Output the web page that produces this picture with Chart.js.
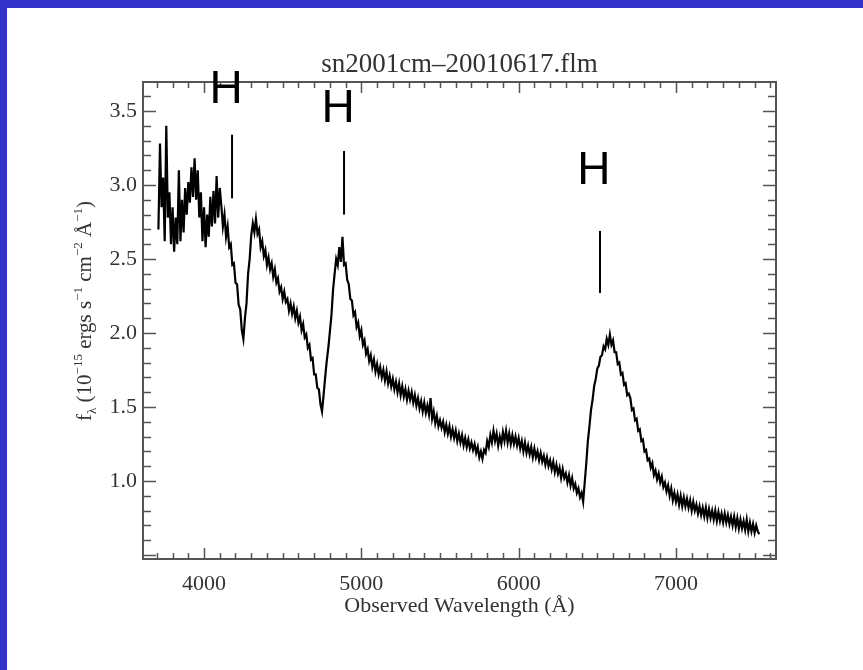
<!DOCTYPE html>
<html>
<head>
<meta charset="utf-8">
<script src="https://cdn.jsdelivr.net/npm/chart.js@4.4.0/dist/chart.umd.js"></script>
<style>
  body { margin: 0; background: #fff; }
  .frame {
    position: absolute; left: 0; top: 0; width: 863px; height: 670px;
    box-sizing: border-box;
    border-top: 8px solid #3333cc;
    border-left: 7px solid #3333cc;
  }
  #chart { position: absolute; left: 0; top: 0; }
</style>
</head>
<body>
<div class="frame"></div>
<canvas id="chart" width="863" height="670"></canvas>
<script>
// spectrum sampling (Angstrom)
const wave0 = 3710;
const waveStep = 10;

// flux in 1e-15 erg/s/cm2/A, one row = 200 A
const flux = [
  2.70, 3.28, 2.85, 3.05, 2.62, 3.40, 2.78, 2.95, 2.60, 2.85, 2.55, 2.78, 2.60, 3.10, 2.62, 2.90, 2.68, 2.98, 2.80, 3.02, // 3710
  2.88, 3.12, 2.92, 3.18, 2.90, 3.10, 2.78, 2.95, 2.62, 2.85, 2.58, 2.80, 2.65, 2.92, 2.72, 2.96, 2.74, 3.06, 2.78, 2.98, // 3910
  2.86, 2.72, 2.80, 2.65, 2.72, 2.58, 2.60, 2.46, 2.47, 2.34, 2.33, 2.19, 2.16, 2.02, 1.96, 2.10, 2.20, 2.40, 2.50, 2.66, // 4110
  2.74, 2.68, 2.77, 2.67, 2.70, 2.58, 2.62, 2.52, 2.56, 2.46, 2.51, 2.43, 2.47, 2.38, 2.43, 2.34, 2.37, 2.28, 2.31, 2.23, // 4310
  2.28, 2.21, 2.23, 2.15, 2.20, 2.13, 2.18, 2.10, 2.15, 2.07, 2.11, 2.02, 2.06, 1.97, 1.99, 1.90, 1.92, 1.82, 1.83, 1.72, // 4510
  1.72, 1.63, 1.62, 1.52, 1.47, 1.58, 1.70, 1.81, 1.90, 2.01, 2.12, 2.29, 2.40, 2.50, 2.46, 2.58, 2.48, 2.65, 2.46, 2.47, // 4710
  2.36, 2.33, 2.23, 2.22, 2.12, 2.14, 2.04, 2.07, 1.98, 2.02, 1.92, 1.95, 1.86, 1.89, 1.81, 1.85, 1.77, 1.82, 1.74, 1.79, // 4910
  1.72, 1.77, 1.70, 1.75, 1.68, 1.74, 1.66, 1.71, 1.64, 1.69, 1.62, 1.67, 1.60, 1.66, 1.58, 1.64, 1.57, 1.62, 1.55, 1.61, // 5110
  1.55, 1.60, 1.53, 1.58, 1.51, 1.56, 1.49, 1.54, 1.47, 1.53, 1.46, 1.51, 1.45, 1.56, 1.42, 1.47, 1.39, 1.44, 1.37, 1.41, // 5310
  1.36, 1.40, 1.33, 1.38, 1.32, 1.37, 1.30, 1.35, 1.29, 1.34, 1.27, 1.32, 1.26, 1.31, 1.24, 1.29, 1.23, 1.28, 1.22, 1.26, // 5510
  1.21, 1.25, 1.19, 1.23, 1.16, 1.20, 1.15, 1.21, 1.19, 1.27, 1.23, 1.31, 1.26, 1.34, 1.27, 1.32, 1.24, 1.30, 1.25, 1.33, // 5710
  1.27, 1.34, 1.26, 1.32, 1.25, 1.31, 1.25, 1.30, 1.24, 1.29, 1.22, 1.27, 1.20, 1.26, 1.19, 1.24, 1.18, 1.23, 1.16, 1.22, // 5910
  1.16, 1.20, 1.14, 1.19, 1.13, 1.17, 1.11, 1.16, 1.10, 1.14, 1.08, 1.13, 1.06, 1.11, 1.05, 1.09, 1.02, 1.08, 1.02, 1.05, // 6110
  0.99, 1.04, 0.97, 1.02, 0.95, 0.98, 0.92, 0.95, 0.89, 0.92, 0.86, 0.99, 1.12, 1.27, 1.37, 1.48, 1.55, 1.64, 1.69, 1.76, // 6310
  1.78, 1.84, 1.85, 1.91, 1.89, 1.96, 1.92, 1.99, 1.92, 1.95, 1.87, 1.87, 1.79, 1.80, 1.72, 1.73, 1.65, 1.66, 1.58, 1.59, // 6510
  1.56, 1.48, 1.49, 1.41, 1.42, 1.34, 1.35, 1.27, 1.28, 1.20, 1.21, 1.14, 1.15, 1.09, 1.12, 1.04, 1.07, 1.01, 1.05, 0.99, // 6710
  1.03, 0.96, 0.99, 0.93, 0.97, 0.90, 0.95, 0.87, 0.92, 0.86, 0.91, 0.84, 0.90, 0.83, 0.89, 0.83, 0.88, 0.82, 0.87, 0.80, // 6910
  0.86, 0.80, 0.84, 0.78, 0.83, 0.77, 0.82, 0.76, 0.82, 0.75, 0.81, 0.75, 0.80, 0.74, 0.80, 0.73, 0.79, 0.73, 0.78, 0.72, // 7110
  0.78, 0.72, 0.77, 0.71, 0.76, 0.70, 0.76, 0.69, 0.75, 0.68, 0.74, 0.68, 0.73, 0.67, 0.74, 0.66, 0.72, 0.66, 0.71, 0.65, // 7310
  0.70, 0.66, 0.64                                                                                                        // 7510
];

const xTicks = [4000, 5000, 6000, 7000];
const yTicks = [1.0, 1.5, 2.0, 2.5, 3.0, 3.5];

// line identifications: wavelength, top and bottom of the bar, label height
const markWave = [4178, 4890, 6517];
const markTop = [3.34, 3.23, 2.69];
const markBottom = [2.91, 2.80, 2.27];
const markLabelY = [3.64, 3.51, 3.09];
const markText = ['H', 'H', 'H'];

const plotTitle = 'sn2001cm\u201320010617.flm';
const xTitle = 'Observed Wavelength (\u00c5)';

const serif = '"Liberation Serif", "DejaVu Serif", serif';

// IDL style box: frame, inward ticks, titles, line marks
const idlBox = {
  id: 'idlBox',
  afterDraw(chart) {
    const {ctx, chartArea: a, scales: {x, y}} = chart;
    ctx.save();

    // inward ticks
    ctx.strokeStyle = '#555';
    ctx.lineWidth = 1.5;
    ctx.beginPath();
    for (let v = 3700; v <= 7600; v += 100) {
      const px = Math.round(x.getPixelForValue(v)) + 0.5;
      const len = v % 1000 === 0 ? 11 : 6;
      ctx.moveTo(px, a.bottom); ctx.lineTo(px, a.bottom - len);
      ctx.moveTo(px, a.top); ctx.lineTo(px, a.top + len);
    }
    for (let k = 5; k <= 36; k++) {
      const py = Math.round(y.getPixelForValue(k / 10)) + 0.5;
      const len = k % 5 === 0 ? 13 : 8;
      ctx.moveTo(a.left, py); ctx.lineTo(a.left + len, py);
      ctx.moveTo(a.right, py); ctx.lineTo(a.right - len, py);
    }
    ctx.stroke();
    ctx.lineWidth = 2;
    ctx.strokeRect(a.left, a.top, a.right - a.left, a.bottom - a.top);

    // titles
    ctx.fillStyle = '#333';
    ctx.textAlign = 'center';
    ctx.textBaseline = 'alphabetic';
    ctx.font = '27px ' + serif;
    ctx.fillText(plotTitle, (a.left + a.right) / 2, 72);
    ctx.font = '22px ' + serif;
    ctx.fillText(xTitle, (a.left + a.right) / 2, 612);

    // y title with sub/superscripts
    const main = '21px ' + serif, small = '13px ' + serif;
    const parts = [
      ['f', 0, main], ['\u03bb', 5, small], [' (10', 0, main], ['\u221215', -9, small],
      [' ergs s', 0, main], ['\u22121', -9, small], [' cm', 0, main], ['\u22122', -9, small],
      [' \u00c5', 0, main], ['\u22121', -9, small], [')', 0, main]
    ];
    let total = 0;
    parts.forEach(p => { ctx.font = p[2]; total += ctx.measureText(p[0]).width; });
    ctx.translate(91, 311);
    ctx.rotate(-Math.PI / 2);
    ctx.textAlign = 'left';
    let cx = -total / 2;
    parts.forEach(p => {
      ctx.font = p[2];
      ctx.fillText(p[0], cx, p[1]);
      cx += ctx.measureText(p[0]).width;
    });
    ctx.setTransform(1, 0, 0, 1, 0, 0);

    // line marks
    ctx.strokeStyle = '#000';
    ctx.fillStyle = '#000';
    ctx.lineWidth = 2;
    ctx.textAlign = 'center';
    ctx.textBaseline = 'middle';
    ctx.font = '46px "Liberation Sans", Arial, sans-serif';
    markWave.forEach((w, i) => {
      const px = x.getPixelForValue(w);
      ctx.beginPath();
      ctx.moveTo(px, y.getPixelForValue(markTop[i]));
      ctx.lineTo(px, y.getPixelForValue(markBottom[i]));
      ctx.stroke();
      ctx.fillText(markText[i], px - 6, y.getPixelForValue(markLabelY[i]));
    });
    ctx.restore();
  }
};

new Chart(document.getElementById('chart'), {
  type: 'scatter',
  data: {
    datasets: [{
      data: flux.map((f, i) => ({x: wave0 + i * waveStep, y: f})),
      showLine: true,
      borderColor: '#000',
      borderWidth: 2.2,
      pointRadius: 0,
      tension: 0
    }]
  },
  options: {
    responsive: false,
    animation: false,
    layout: {padding: {top: 82, right: 87, left: 0, bottom: 0}},
    plugins: {legend: {display: false}, tooltip: {enabled: false}},
    scales: {
      x: {
        type: 'linear',
        min: 3612,
        max: 7636,
        afterFit: s => { s.height = 111; },
        afterBuildTicks: s => { s.ticks = xTicks.map(v => ({value: v})); },
        grid: {display: false, drawTicks: false},
        border: {display: false},
        ticks: {
          padding: 12,
          color: '#333',
          font: {family: serif, size: 22},
          callback: v => String(v)
        }
      },
      y: {
        type: 'linear',
        min: 0.473,
        max: 3.696,
        afterFit: s => { s.width = 143; },
        afterBuildTicks: s => { s.ticks = yTicks.map(v => ({value: v})); },
        grid: {display: false, drawTicks: false},
        border: {display: false},
        ticks: {
          padding: 6,
          color: '#333',
          font: {family: serif, size: 22},
          callback: v => v.toFixed(1)
        }
      }
    }
  },
  plugins: [idlBox]
});
</script>
</body>
</html>
